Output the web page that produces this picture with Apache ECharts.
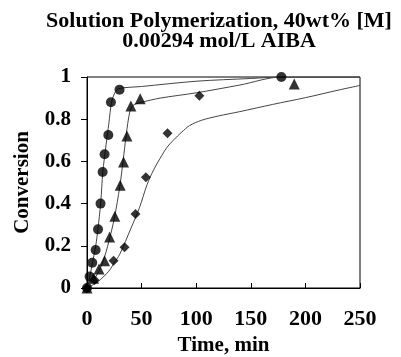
<!DOCTYPE html>
<html>
<head>
<meta charset="utf-8">
<script src="https://cdn.jsdelivr.net/npm/echarts@6/dist/echarts.min.js"></script>
<style>
html,body{margin:0;padding:0;background:#fff;}
#chart{width:401px;height:357px;}
</style>
</head>
<body>
<div id="chart"></div>
<script>
// Experimental points (time in min, conversion)
var circleTime = [0, 2.4, 4.8, 7.9, 10.1, 12.4, 14.3, 16.1, 19.5, 21.9, 29.8, 178];
var circleConv = [0, 0.054, 0.12, 0.18, 0.278, 0.40, 0.55, 0.634, 0.725, 0.88, 0.94, 1.0];

var triangleTime = [0, 6, 11, 16.1, 20.7, 25.5, 30.4, 33.5, 36.6, 40.2, 48.7, 189.8];
var triangleConv = [0, 0.046, 0.09, 0.129, 0.242, 0.34, 0.487, 0.597, 0.72, 0.863, 0.897, 0.967];

var diamondTime = [0, 6.9, 24.3, 34.4, 44.4, 53.9, 73.7, 102.9];
var diamondConv = [0, 0.038, 0.129, 0.193, 0.351, 0.525, 0.733, 0.911];

// Model fit curves
var fitCircleTime = [0, 2, 5, 8, 10, 12.5, 14.5, 17.5, 20, 22.5, 25.5, 29, 50, 100, 150, 178, 250];
var fitCircleConv = [0, 0.04, 0.12, 0.2, 0.28, 0.4, 0.55, 0.68, 0.78, 0.88, 0.925, 0.945, 0.955, 0.98, 0.993, 1.0, 1.0];

var fitTriangleTime = [0, 5, 10, 15, 20, 25, 30, 33, 36, 39, 42, 50, 67, 100, 140, 178, 250];
var fitTriangleConv = [0, 0.03, 0.07, 0.13, 0.22, 0.33, 0.48, 0.6, 0.73, 0.83, 0.865, 0.88, 0.9, 0.925, 0.962, 1.0, 1.0];

var fitDiamondTime = [0, 10, 20, 25, 30, 40, 48, 55, 61, 67, 73, 79, 87, 94, 105, 120, 140, 170, 200, 232, 250];
var fitDiamondConv = [0, 0.03, 0.08, 0.12, 0.16, 0.28, 0.38, 0.49, 0.56, 0.615, 0.665, 0.70, 0.74, 0.77, 0.795, 0.815, 0.836, 0.87, 0.902, 0.94, 0.96];

var xTicks = [0, 50, 100, 150, 200, 250];
var yTicks = [0, 0.2, 0.4, 0.6, 0.8, 1];

function pairs(xs, ys) { return xs.map(function (x, i) { return [x, ys[i]]; }); }

var serif = 'Liberation Serif';
var chart = echarts.init(document.getElementById('chart'), null, {renderer: 'canvas'});

function fitSeries(xs, ys) {
  return {
    type: 'line', data: pairs(xs, ys), smooth: 0.3, showSymbol: false, symbol: 'none',
    lineStyle: {color: '#444', width: 1}, z: 2, silent: true, animation: false
  };
}
function pointSeries(xs, ys, symbol, size) {
  return {
    type: 'scatter', data: pairs(xs, ys), symbol: symbol, symbolSize: size,
    itemStyle: {color: '#000'}, z: 3, animation: false
  };
}

chart.setOption({
  animation: false,
  title: {
    text: 'Solution Polymerization, 40wt% [M]\n0.00294 mol/L AIBA',
    left: 214, top: 6, textAlign: 'center',
    textStyle: {fontFamily: serif, fontWeight: 'bold', fontSize: 22, lineHeight: 20, color: '#000'}
  },
  grid: {left: 87, right: 41, top: 77, bottom: 69, containLabel: false, outerBoundsMode: 'none',
         show: true, borderColor: '#000', borderWidth: 1, backgroundColor: 'transparent'},
  xAxis: {
    type: 'value', min: xTicks[0], max: xTicks[xTicks.length - 1], interval: 50,
    name: 'Time, min', nameLocation: 'middle', nameGap: 45,
    nameTextStyle: {fontFamily: serif, fontWeight: 'bold', fontSize: 21, color: '#000'},
    axisLine: {lineStyle: {color: '#000', width: 1}},
    axisTick: {inside: true, length: 5, lineStyle: {color: '#000'}},
    axisLabel: {fontFamily: serif, fontWeight: 'bold', fontSize: 22, color: '#000', margin: 20},
    splitLine: {show: false}
  },
  yAxis: {
    type: 'value', min: yTicks[0], max: yTicks[yTicks.length - 1], interval: 0.2,
    name: 'Conversion', nameLocation: 'middle', nameGap: 54,
    nameTextStyle: {fontFamily: serif, fontWeight: 'bold', fontSize: 21, color: '#000'},
    axisLine: {lineStyle: {color: '#000', width: 1}},
    axisTick: {inside: false, length: 6, lineStyle: {color: '#000'}},
    axisLabel: {fontFamily: serif, fontWeight: 'bold', fontSize: 21, color: '#000', margin: 16},
    splitLine: {show: false}
  },
  series: [
    fitSeries(fitCircleTime, fitCircleConv),
    fitSeries(fitTriangleTime, fitTriangleConv),
    fitSeries(fitDiamondTime, fitDiamondConv),
    pointSeries(circleTime, circleConv, 'circle', 10),
    pointSeries(triangleTime, triangleConv, 'triangle', 11),
    pointSeries(diamondTime, diamondConv, 'diamond', 10)
  ]
});
</script>
</body>
</html>
